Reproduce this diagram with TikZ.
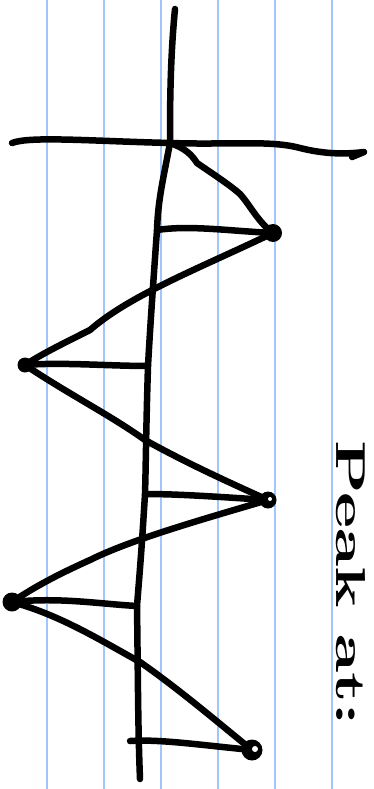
\documentclass[tikz,border=0pt]{standalone}
\definecolor{paperline}{RGB}{160,198,250}
\begin{document}
\begin{tikzpicture}[x=1pt,y=-1pt,
  rule/.style={draw=paperline, line width=2.6pt},
  ink/.style={draw=black, line width=6.5pt, line cap=round, line join=round},
  dotmark/.style={circle, fill=black, inner sep=0pt, minimum size=18pt},
  holemark/.style={circle, fill=white, inner sep=0pt, minimum size=5pt}]
\useasboundingbox (0,0) rectangle (374,789);
\fill[white] (0,0) rectangle (374,789);
% ruled paper lines
\foreach \x in {47,104,161,218,275,332} \draw[rule] (\x,0) -- (\x,789);
% named points
\coordinate (o) at (170,143);
\coordinate (p1) at (273,233);
\coordinate (p2) at (25,365);
\coordinate (p3) at (268,500);
\coordinate (p4) at (12,602);
\coordinate (p5) at (252,750);
\coordinate (a1) at (157,230);
\coordinate (a2) at (148,366);
\coordinate (a3) at (145,494);
\coordinate (a4) at (137,606);
\coordinate (a5) at (130,741);
\coordinate (vtop) at (175,9);
\coordinate (vbot) at (140,779);
\coordinate (hl) at (12,143);
\coordinate (hr) at (364,152);
% vertical axis
\draw[ink] (vtop) .. controls (170,60) and (170,110) .. (o)
  .. controls (163,180) and (158,200) .. (a1)
  .. controls (152,300) and (150,330) .. (a2)
  .. controls (146,430) and (146,460) .. (a3)
  .. controls (141,560) and (139,580) .. (a4)
  .. controls (138,680) and (138,730) .. (vbot);
% horizontal axis
\draw[ink] (hl) .. controls (30,136) and (90,141) .. (o)
  .. controls (230,145) and (270,140) .. (300,148)
  .. controls (320,153) and (340,155) .. (hr) -- (352,157);
% zigzag
\draw[ink] (o) .. controls (185,148) and (192,155) .. (197,163)
  .. controls (210,172) and (230,185) .. (240,194)
  .. controls (250,205) and (258,222) .. (p1)
  .. controls (200,268) and (130,295) .. (90,330)
  .. controls (60,345) and (40,355) .. (p2)
  .. controls (70,395) and (110,415) .. (145,440)
  .. controls (190,465) and (235,485) .. (p3)
  .. controls (200,520) and (130,540) .. (90,560)
  .. controls (50,578) and (30,590) .. (p4)
  .. controls (60,615) and (100,640) .. (140,662)
  .. controls (180,690) and (215,720) .. (p5);
% horizontal ties
\draw[ink] (p1) .. controls (230,231) and (190,225) .. (a1);
\draw[ink] (p2) .. controls (60,362) and (110,366) .. (a2);
\draw[ink] (p3) .. controls (220,497) and (180,494) .. (a3);
\draw[ink] (p4) .. controls (60,597) and (100,604) .. (a4);
\draw[ink] (p5) .. controls (200,745) and (160,739) .. (a5);
% peak marks
\node[dotmark] (m1) at (p1) {};
\node[dotmark, minimum size=15pt] (m2) at (p2) {};
\node[dotmark, minimum size=17pt] (m3) at (p3) {};
\node[holemark, minimum size=4pt] (h3) at (270,499) {};
\node[dotmark, minimum size=19pt] (m4) at (p4) {};
\node[dotmark, minimum size=21pt] (m5) at (p5) {};
\node[holemark, minimum size=6pt] (h5) at (255,749) {};
% label
\node[rotate=-90, anchor=base west, inner sep=0pt] (lbl) at (336,440)
  {\resizebox{285pt}{29pt}{\bfseries Peak at:}};
\end{tikzpicture}
\end{document}
